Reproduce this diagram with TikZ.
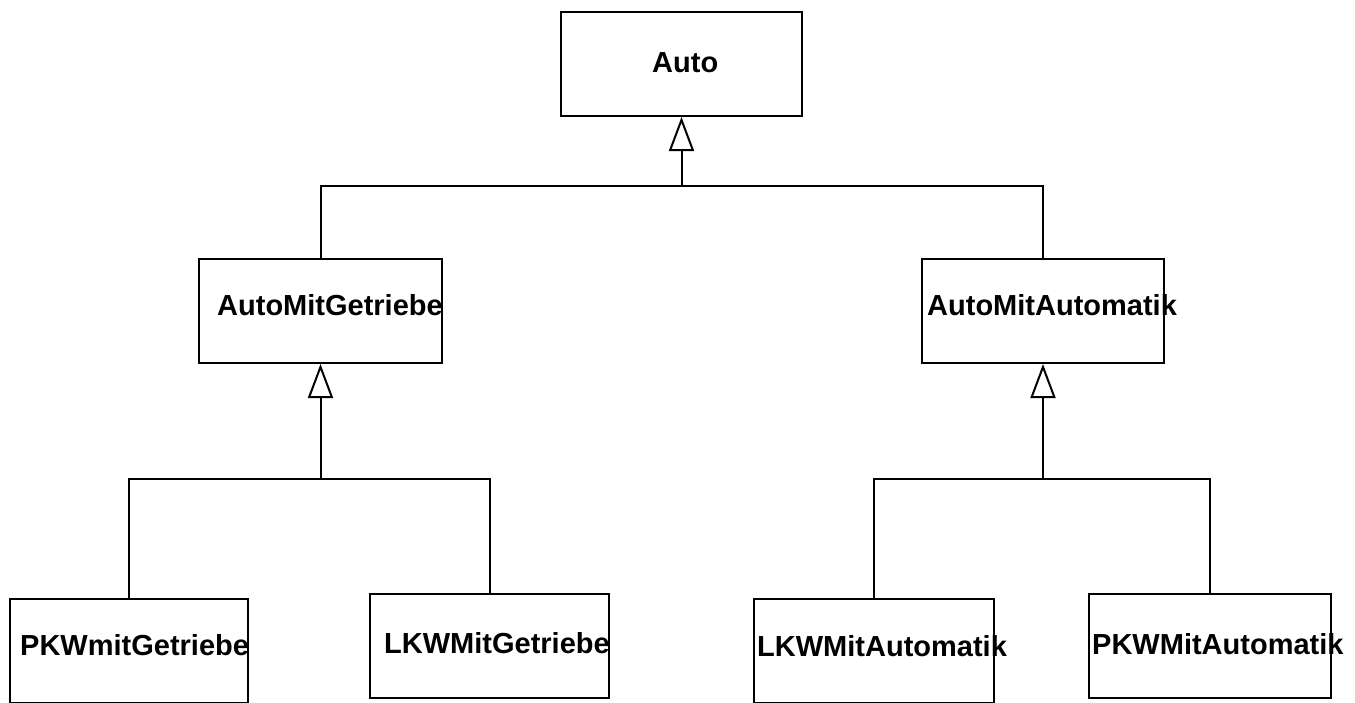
\documentclass[tikz,border=0pt]{standalone}
\usepackage{fontspec}
\setmainfont{Liberation Sans}
\usetikzlibrary{arrows.meta}
\begin{document}
\begin{tikzpicture}[x=1pt,y=-1pt,
  box/.style={draw=black,line width=2pt,inner sep=0pt,minimum height=104pt},
  lbl/.style={anchor=base west,inner sep=0pt,font=\bfseries\fontsize{29}{29}\selectfont},
  conn/.style={draw=black,line width=2pt},
  inh/.style={conn,-{Triangle[open,length=34pt,width=25pt,line width=2pt]}}]
\useasboundingbox (0,0) rectangle (1355,702);
\node[box,minimum width=241pt] (auto) at (681.5,64) {};
\node[box,minimum width=243pt] (amg) at (320.5,311) {};
\node[box,minimum width=242pt] (ama) at (1043,311) {};
\node[box,minimum width=238pt] (pkwg) at (129,651) {};
\node[box,minimum width=239pt] (lkwg) at (489.5,646) {};
\node[box,minimum width=240pt] (lkwa) at (874,651) {};
\node[box,minimum width=242pt] (pkwa) at (1210,646) {};
\node[lbl] (tauto) at (652,72) {Auto};
\node[lbl] (tamg) at (217,315) {AutoMitGetriebe};
\node[lbl] (tama) at (927,315) {AutoMitAutomatik};
\node[lbl] (tpkwg) at (20,655) {PKWmitGetriebe};
\node[lbl] (tlkwg) at (384,653) {LKWMitGetriebe};
\node[lbl] (tlkwa) at (757,656) {LKWMitAutomatik};
\node[lbl] (tpkwa) at (1092,654) {PKWMitAutomatik};
\coordinate (j0) at (auto.south |- 0,186);
\coordinate (j1) at (amg.south |- 0,479);
\coordinate (j2) at (ama.south |- 0,479);
\draw[conn] (amg.north) |- (j0);
\draw[conn] (ama.north) |- (j0);
\draw[inh] (j0) -- (auto.south);
\draw[conn] (pkwg.north) |- (j1);
\draw[conn] (lkwg.north) |- (j1);
\draw[inh] (j1) -- (amg.south);
\draw[conn] (lkwa.north) |- (j2);
\draw[conn] (pkwa.north) |- (j2);
\draw[inh] (j2) -- (ama.south);
\end{tikzpicture}
\end{document}
